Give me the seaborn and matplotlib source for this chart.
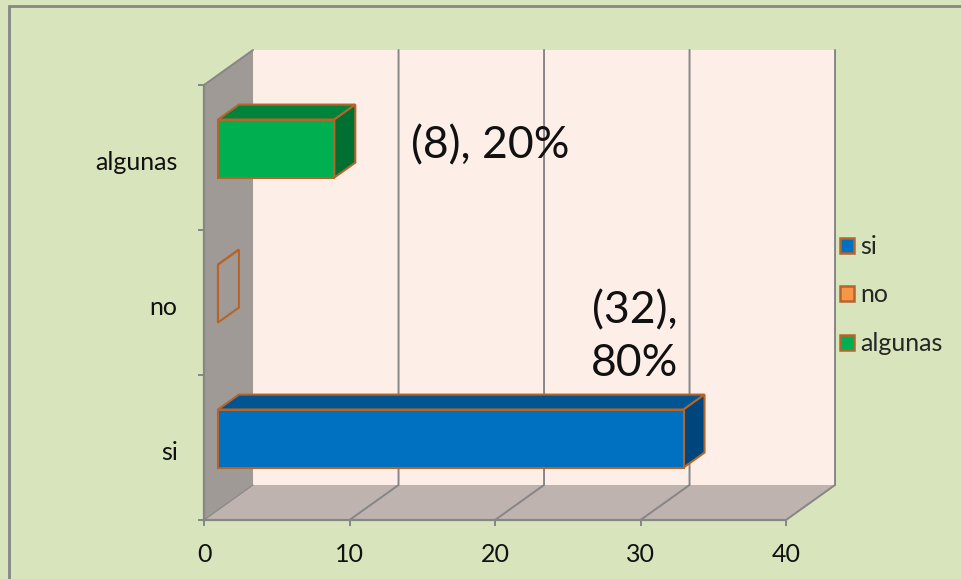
import matplotlib
matplotlib.use('Agg')
import matplotlib.pyplot as plt
from matplotlib.patches import Polygon, Rectangle
from matplotlib.transforms import ScaledTranslation
import pandas as pd
import seaborn as sns

categorias = ['algunas', 'no', 'si']
orden_leyenda = ['si', 'no', 'algunas']
valores = [8, 0, 32]
etiquetas = ['(8), 20%', '', '(32),\n80%']
etiqueta_x = [19.7, 0, 29.6]
etiqueta_y = [-0.08, 1, 1.24]
ticks_x = [0, 10, 20, 30, 40]

colores = {'si': '#0070C0', 'no': '#F79646', 'algunas': '#00B050'}
colores_techo = {'si': '#005592', 'no': 'none', 'algunas': '#00843C'}
colores_lado = {'si': '#00467C', 'no': 'none', 'algunas': '#006F32'}
BORDE = '#B5652B'
GRIS = '#868686'
FONDO = '#D8E4BC'

# desplazamientos de la perspectiva, en unidades de los ejes
PARED_DX, PARED_DY = 3.37, 0.2414
BARRA_X0, BARRA_DY0 = 0.96, 0.062
BARRA_DX, BARRA_DY = 1.44, 0.103

sns.set_theme(style='white')
plt.rcParams['font.family'] = ['Lato', 'DejaVu Sans']

df = pd.DataFrame({'categoria': categorias, 'valor': valores})

W, H = 961, 579
fig = plt.figure(figsize=(W / 100, H / 100), dpi=100, facecolor=FONDO)
ax = fig.add_axes([204 / W, 1 - 520 / H, 582 / W, 435 / H])
ax.patch.set_alpha(0)

sns.barplot(data=df, x='valor', y='categoria', hue='categoria', order=categorias,
            hue_order=orden_leyenda, palette=colores, dodge=False, width=0.4, saturation=1,
            edgecolor=BORDE, linewidth=1.5, zorder=6, legend=True, ax=ax)
ax.set_xlim(0, 40)
ax.set_ylim(2.5, -0.5)
ax.set_xlabel('')
ax.set_ylabel('')

y0, y1 = 2.5, -0.5
ymin_atras = y0 - PARED_DY
ymax_atras = y1 - PARED_DY


def poly(puntos, color, z, **kw):
    ax.add_patch(Polygon(puntos, closed=True, facecolor=color, clip_on=False, zorder=z, **kw))


# paredes y piso
poly([(PARED_DX, ymin_atras), (40 + PARED_DX, ymin_atras), (40 + PARED_DX, ymax_atras), (PARED_DX, ymax_atras)],
     '#FDEFE8', 1, edgecolor='none')
poly([(0, y0), (PARED_DX, ymin_atras), (PARED_DX, ymax_atras), (0, y1)], '#A09A96', 1, edgecolor='none')
poly([(0, y0), (40, y0), (40 + PARED_DX, ymin_atras), (PARED_DX, ymin_atras)], '#BFB3AF', 1, edgecolor='none')

for t in ticks_x[1:]:
    ax.plot([t, t + PARED_DX, t + PARED_DX], [y0, ymin_atras, ymax_atras], color=GRIS, lw=1.4,
            clip_on=False, zorder=2, solid_joinstyle='miter')
ax.plot([0, PARED_DX], [y1, ymax_atras], color=GRIS, lw=1.4, clip_on=False, zorder=2)
ax.plot([0, PARED_DX], [y0, ymin_atras], color=GRIS, lw=0.8, clip_on=False, zorder=2)

# caras 3D de cada barra
for cont, nombre in zip(ax.containers, orden_leyenda):
    for barra in cont:
        barra.set_x(barra.get_x() + BARRA_X0)
        barra.set_y(barra.get_y() - BARRA_DY0)
        barra.set_clip_on(False)
        x_a, x_b = barra.get_x(), barra.get_x() + barra.get_width()
        y_a, y_b = barra.get_y(), barra.get_y() + barra.get_height()
        poly([(x_a, y_a), (x_b, y_a), (x_b + BARRA_DX, y_a - BARRA_DY), (x_a + BARRA_DX, y_a - BARRA_DY)],
             colores_techo[nombre], 4, edgecolor=BORDE, linewidth=1.5)
        poly([(x_b, y_a), (x_b + BARRA_DX, y_a - BARRA_DY), (x_b + BARRA_DX, y_b - BARRA_DY), (x_b, y_b)],
             colores_lado[nombre], 5, edgecolor=BORDE, linewidth=1.5)

for x, y, txt in zip(etiqueta_x, etiqueta_y, etiquetas):
    if txt:
        ax.text(x, y, txt, ha='center', va='center', fontsize=32, color='#111111',
                linespacing=1.35, zorder=8)

# ejes
sns.despine(ax=ax, top=True, right=True)
for lado in ['left', 'bottom']:
    ax.spines[lado].set_color(GRIS)
    ax.spines[lado].set_linewidth(1.6)
    ax.spines[lado].set_zorder(7)
ax.set_xticks(ticks_x)
ax.set_yticks([0, 1, 2])
ax.set_yticks([-0.5, 0.5, 1.5, 2.5], minor=True)
ax.tick_params(axis='x', length=4.5, width=1.4, color=GRIS, labelsize=18, pad=12, labelcolor='#111111', bottom=True)
ax.tick_params(axis='y', which='major', length=0, labelsize=18, pad=19, labelcolor='#111111')
ax.tick_params(axis='y', which='minor', length=4.5, width=1.4, color=GRIS, left=True)
bajar = ScaledTranslation(0, -3 / 100, fig.dpi_scale_trans)
for lab in ax.get_yticklabels():
    lab.set_transform(lab.get_transform() + bajar)

# leyenda
sns.move_legend(ax, 'center left', bbox_to_anchor=(840 / W, 1 - 295 / H),
                bbox_transform=fig.transFigure, frameon=False, title=None, fontsize=18,
                handlelength=0.56, handleheight=0.56, handletextpad=0.24, labelspacing=1.02,
                borderpad=0, borderaxespad=0)
for h in ax.get_legend().legend_handles:
    h.set_edgecolor(BORDE)
    h.set_linewidth(1.8)

# marco del grafico
fig.add_artist(Rectangle((9 / W, -0.05), 1.1, 1 - 6 / H + 0.05, transform=fig.transFigure,
                         facecolor='none', edgecolor=GRIS, linewidth=2))

fig.savefig('out.png', dpi=100, facecolor=FONDO)
